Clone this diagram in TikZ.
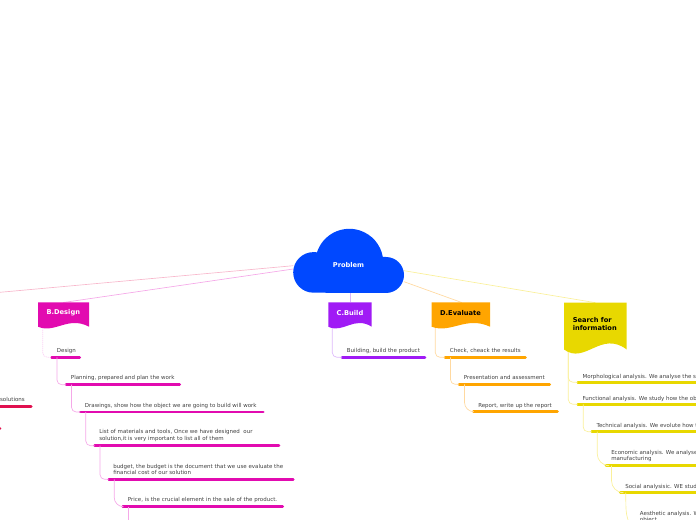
\documentclass[tikz,border=0pt]{standalone}
\usepackage{fontspec}
\setmainfont{DejaVu Sans}
\definecolor{rootblue}{HTML}{0048FF}
\definecolor{redbar}{HTML}{E0104F}
\definecolor{redtwig}{HTML}{F8B8CC}
\definecolor{designbar}{HTML}{E20BB0}
\definecolor{designtwig}{HTML}{F5A8E8}
\definecolor{buildbar}{HTML}{A01BF5}
\definecolor{buildtwig}{HTML}{DDB8FB}
\definecolor{evalbar}{HTML}{FFA500}
\definecolor{evaltwig}{HTML}{FFD9A0}
\definecolor{searchbar}{HTML}{E8D800}
\definecolor{searchtwig}{HTML}{FAF09A}
\tikzset{
  itemtext/.style={anchor=west,inner sep=0pt,align=left,text=black!75,yshift=-0.4pt,font=\fontsize{4.12}{4.9}\selectfont},
  flagtext/.style={inner sep=0pt,align=left,yshift=-0.5pt,font=\fontsize{5}{6}\selectfont\bfseries},
  twig/.style={line width=0.5pt,rounded corners=3.5pt},
  bar/.style={line width=2pt,line cap=round}
}
% bar under an item: name, colour, left x, right x, y
\newcommand{\itembar}[5]{
  \coordinate (#1-l) at (#3,#5); \coordinate (#1-r) at (#4,#5);
  \coordinate (#1-s) at (#3+5.5,#5);
  \draw [bar,#2] (#1-l) -- (#1-r);
}
\begin{document}
\begin{tikzpicture}[x=0.75pt,y=-0.75pt]
\useasboundingbox (0,0) rectangle (696,520);
\clip (0,0) rectangle (696,520);

% main branches
\coordinate (rootA) at (293.3,265.7); \coordinate (redend) at (0,292.3);
\coordinate (rootB) at (293.3,269); \coordinate (designtop) at (63.3,302.5);
\coordinate (rootC) at (350,292); \coordinate (buildtop) at (350,302.5);
\coordinate (rootD) at (404,281.7); \coordinate (evaltop) at (461.7,302.5);
\coordinate (rootS) at (404,270.7); \coordinate (searchtop) at (595.5,302.7);
\draw [redtwig,line width=0.5pt] (rootA) -- (redend);
\draw [designtwig,line width=0.5pt] (rootB) -- (designtop);
\draw [buildtwig,line width=0.5pt] (rootC) -- (buildtop);
\draw [evaltwig,line width=0.5pt] (rootD) -- (evaltop);
\draw [searchtwig,line width=0.5pt] (rootS) -- (searchtop);

% cloud
\fill [rootblue] (313.5,292.7) arc [radius=20.3,start angle=90,end angle=270] -- (317,252.3) arc [radius=34,start angle=198,end angle=350] -- (386,257) arc [radius=18,start angle=270,end angle=450] -- cycle;
\node (problem) [flagtext,text=white] at (348.5,264.5) {Problem};

% flags
\fill [designbar] (38,302.5) -- (89,302.5) -- (89,326.7) .. controls (68,315.5) and (55,334) .. (38,326.7) -- cycle;
\node (design) [flagtext,text=white] at (63.3,312.5) {B.Design};
\fill [buildbar] (328.3,302.5) -- (371.7,302.5) -- (371.7,326.7) .. controls (354,315.5) and (343,334) .. (328.3,326.7) -- cycle;
\node (build) [flagtext,text=white] at (350,312.5) {C.Build};
\fill [evalbar] (431.5,302.5) -- (490,302.5) -- (490,326.7) .. controls (466,315.5) and (451,334) .. (431.5,326.7) -- cycle;
\node (evaluate) [flagtext,text=black] at (460.5,312.5) {D.Evaluate};
\fill [searchbar] (564,302.7) -- (626.7,302.7) -- (626.7,349.5) .. controls (601,330) and (585,365) .. (564,349.5) -- cycle;
\node (search) [flagtext,text=black,anchor=west] at (572.5,323.5) {Search for\\information};

% red branch, mostly off the page
\node (solutions) [itemtext,anchor=east] at (25,399) {solutions};
\itembar{solbar}{redbar}{-20}{31.2}{406.7}
\itembar{dotbar}{redbar}{-20}{0}{428.3}

% design branch
\coordinate (designroot) at (42.7,328);
\node (designitem) [itemtext] at (56.7,350.3) {Design};
\itembar{designb}{designbar}{51.5}{79.7}{357.3}
\node (planning) [itemtext] at (70.7,377) {Planning, prepared and plan the work};
\itembar{planb}{designbar}{66}{179.7}{384.7}
\node (drawings) [itemtext] at (84.7,405) {Drawings, show how the object we are going to build will work};
\itembar{drawb}{designbar}{80.3}{263.3}{412}
\node (materials) [itemtext] at (99,435) {List of materials and tools, Once we have designed~ our\\solution,it is very important to list all of them};
\itembar{matb}{designbar}{94.5}{279}{445.7}
\node (budget) [itemtext] at (113,469) {budget, the budget is the document that we use evaluate the\\financial cost of our solution};
\itembar{budgetb}{designbar}{108.7}{293.3}{479.3}
\node (price) [itemtext] at (127.7,499) {Price, is the crucial element in the sale of the product.};
\itembar{priceb}{designbar}{122.7}{282.7}{506.7}
\coordinate (priceend) at (128.2,530);
\draw [twig,designtwig!50,dashed,dash pattern=on 1pt off 0.5pt] (designroot) |- (designb-l);
\draw [twig,designtwig] (designb-s) |- (planb-l);
\draw [twig,designtwig] (planb-s) |- (drawb-l);
\draw [twig,designtwig] (drawb-s) |- (matb-l);
\draw [twig,designtwig] (matb-s) |- (budgetb-l);
\draw [twig,designtwig,rounded corners=7pt] (budgetb-s) |- (priceb-l);
\draw [twig,designtwig] (priceb-s) -- (priceend);

% build branch
\coordinate (buildroot) at (332.3,328);
\node (building) [itemtext] at (346.7,350.3) {Building, build the product};
\itembar{buildb}{buildbar}{342}{425}{357.3}
\draw [twig,buildtwig] (buildroot) |- (buildb-l);

% evaluate branch
\coordinate (evalroot) at (435.3,328);
\node (check) [itemtext] at (449.7,350.3) {Check, cheack the results};
\itembar{checkb}{evalbar}{445}{525.5}{357.3}
\node (present) [itemtext] at (463.7,377) {Presentation and assessment};
\itembar{presentb}{evalbar}{459}{549.7}{384.3}
\node (report) [itemtext] at (478,405) {Report, write up the report};
\itembar{reportb}{evalbar}{473.3}{557.5}{411.7}
\draw [twig,evaltwig] (evalroot) |- (checkb-l);
\draw [twig,evaltwig] (checkb-s) |- (presentb-l);
\draw [twig,evaltwig,rounded corners=7pt] (presentb-s) |- (reportb-l);

% search branch
\coordinate (searchroot) at (568.3,352);
\node (morph) [itemtext] at (582.3,376) {Morphological analysis. We analyse the s};
\itembar{morphb}{searchbar}{577.7}{710}{382.3}
\node (func) [itemtext] at (582.3,398) {Functional analysis. We study how the ob};
\itembar{funcb}{searchbar}{577.7}{710}{404.3}
\node (tech) [itemtext] at (596.3,425) {Technical analysis. We evolute how t};
\itembar{techb}{searchbar}{591.7}{710}{431.7}
\node (econ) [itemtext] at (611,455.5) {Economic analysis. We analyse t\\manufacturing};
\itembar{econb}{searchbar}{606}{710}{465.7}
\node (social) [itemtext] at (625,486) {Social analysisic. WE stud};
\itembar{socialb}{searchbar}{620.3}{710}{492.7}
\node (aesth) [itemtext] at (639.7,516.5) {Aesthetic analysis. W\\object};
\coordinate (socialend) at (632,530);
\draw [twig,searchtwig] (searchroot) |- (morphb-l);
\draw [twig,searchtwig] (searchroot) |- (funcb-l);
\draw [twig,searchtwig] (funcb-s) |- (techb-l);
\draw [twig,searchtwig,rounded corners=9pt] (techb-s) |- (econb-l);
\draw [twig,searchtwig,rounded corners=9pt] (econb-s) |- (socialb-l);
\draw [twig,searchtwig] (socialb-s) .. controls (625.8,515) .. (socialend);

\end{tikzpicture}
\end{document}
